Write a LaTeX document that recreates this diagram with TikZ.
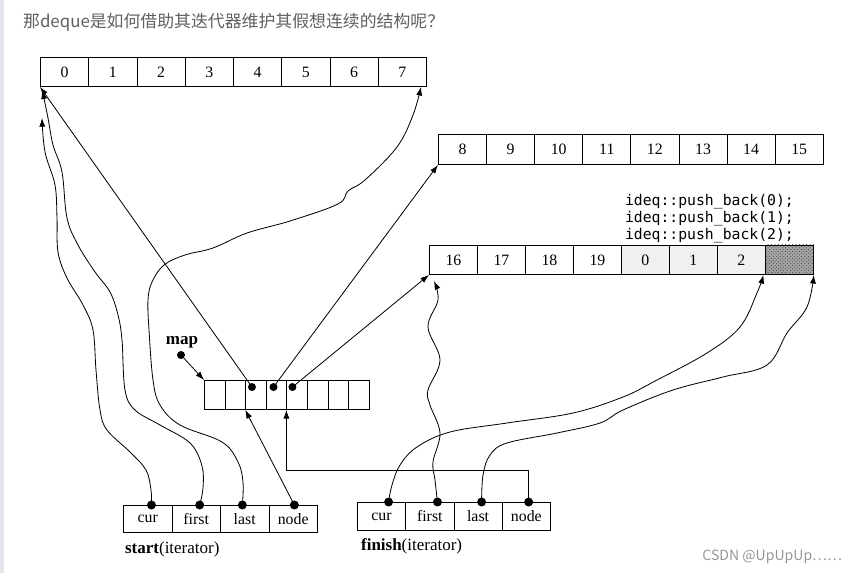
\documentclass[tikz,border=0pt]{standalone}
\usepackage{fontspec}
\setmainfont{Liberation Serif}
\setmonofont{DejaVu Sans Mono}
\newfontfamily\cjk{Noto Sans CJK SC}
\usetikzlibrary{arrows.meta,backgrounds,patterns}
\definecolor{titlec}{RGB}{96,96,96}
\definecolor{markc}{RGB}{150,150,150}
\definecolor{barc}{RGB}{228,230,235}
\tikzset{
  cell/.style={draw=black, line width=0.75pt, inner sep=0pt, font=\fontsize{13.5}{15}\selectfont},
  dot/.style={circle, fill=black, inner sep=0pt, minimum size=2.7mm},
  ptr/.style={-{Latex[length=2.6mm,width=1.8mm]}, line width=0.7pt},
  wavy/.style={ptr, smooth, tension=0.6},
  lbl/.style={anchor=west, font=\fontsize{14.5}{16}\selectfont}
}

\begin{document}
\begin{tikzpicture}[x=0.03cm, y=-0.03cm]
  \useasboundingbox (0,0) rectangle (850,573);
  \fill[barc] (0,0) rectangle (4,573);
  \node[anchor=west, text=titlec, font=\cjk\fontsize{14.4}{16}\selectfont] (title) at (19,22) {那deque是如何借助其迭代器维护其假想连续的结构呢？};

  \newcommand{\cellrow}[6]{
    \foreach \lbl [count=\k from 0] in {#6}
      \node[cell, minimum width=#4*0.03cm, minimum height=#5*0.03cm, anchor=north west] (#1\k) at ({#2+\k*#4},#3) {\lbl};
  }
  \cellrow{a}{40}{57}{48.25}{29}{0,1,2,3,4,5,6,7}
  \cellrow{b}{438}{134}{48.1}{30}{8,9,10,11,12,13,14,15}
  \cellrow{c}{429}{245}{48}{29}{16,17,18,19,0,1,2,{}}
  \cellrow{m}{204}{380}{20.6}{29}{{},{},{},{},{},{},{},{}}
  \cellrow{s}{123}{505}{48.5}{27}{cur,first,last,node}
  \cellrow{f}{357}{502}{48.25}{28}{cur,first,last,node}

  \begin{scope}[on background layer]
    \fill[black!6] (c4.south west) rectangle (c6.north east);
    \fill[black!35] (c7.south west) rectangle (c7.north east);
    \fill[pattern=crosshatch dots, pattern color=black!75] (c7.south west) rectangle (c7.north east);
  \end{scope}

  \node[anchor=north east, align=left, font=\ttfamily\fontsize{12.6}{14.5}\selectfont] (pushlbl) at (798,190) {ideq::push\_back(0);\\ideq::push\_back(1);\\ideq::push\_back(2);};

  % map pointer and node pointers
  \node[font=\bfseries\fontsize{14.5}{16}\selectfont] (maplbl) at (182,342) {map};
  \node[dot, minimum size=2.4mm] (mapdot) at (181,355) {};
  \draw[ptr] (mapdot) -- (m0.north west);
  \node[dot, minimum size=2.4mm] (md2) at ([shift={(-3.4pt,-6pt)}]m2.north) {};
  \node[dot, minimum size=2.4mm] (md3) at ([shift={(-2.6pt,-6pt)}]m3.north) {};
  \node[dot, minimum size=2.4mm] (md4) at ([shift={(-4pt,-6pt)}]m4.north) {};
  \draw[ptr] (md2.center) -- (a0.south west);
  \draw[ptr] (md3.center) -- (b0.south west);
  \draw[ptr] (md4.center) -- (c0.south west);

  % start iterator
  \node[dot] (sd0) at ([xshift=3.2pt]s0.north) {};
  \node[dot] (sd1) at ([xshift=3pt]s1.north) {};
  \node[dot] (sd2) at ([xshift=-2pt]s2.north) {};
  \node[dot] (sd3) at ([xshift=1pt]s3.north) {};
  \coordinate (curtip) at (42,118);
  \draw[wavy] plot coordinates {(sd0.center) (151,490) (146,470) (130,452) (107,430) (100,410) (96,370) (93,330) (83,305) (67,278) (58,252) (57,218) (55,185) (45,152) (curtip)};
  \draw[wavy] plot coordinates {(sd1.center) (203,488) (202,466) (190,443) (160,425) (135,410) (125,390) (122,340) (118,315) (110,292) (95,272) (78,245) (67,218) (62,172) (53,145) (48,118) ([shift={(2pt,-3pt)}]a0.south west)};
  \draw[wavy] plot coordinates {(sd2.center) (243,482) (238,462) (222,442) (180,425) (160,405) (153,380) (149,330) (148,300) (152,282) (164,265) (185,255) (213,248) (247,233) (290,221) (338,204) (348,191) (365,180) (397,147) (413,115) ([xshift=-5pt]a7.south east)};
  \draw[ptr] (sd3.center) -- (m2.south west);

  % finish iterator
  \node[dot] (fd0) at ([xshift=6pt]f0.north) {};
  \node[dot] (fd1) at ([xshift=6.5pt]f1.north) {};
  \node[dot] (fd2) at ([xshift=3pt]f2.north) {};
  \node[dot] (fd3) at ([xshift=2pt]f3.north) {};
  \coordinate (firsttip) at (434,281);
  \draw[wavy] plot coordinates {(fd0.center) (392,485) (400,465) (417,447) (450,432) (507,423) (573,413) (623,397) (657,380) (707,353) (740,327) (757,293) ([xshift=-2pt]c6.south east)};
  \draw[wavy] plot coordinates {(fd1.center) (435,480) (433,462) (440,433) (430,405) (428,390) (440,360) (428,327) (438,300) (firsttip)};
  \draw[wavy] plot coordinates {(fd2.center) (483,475) (490,455) (507,443) (557,433) (600,423) (623,410) (673,390) (723,377) (767,365) (787,333) (807,307) (c7.south east)};
  \draw[ptr] (fd3.center) -- ++(0,-32) -| (m4.south west);

  \node[lbl] (startlbl) at (121,549) {\textbf{start}(iterator)};
  \node[lbl] (finishlbl) at (357,546) {\textbf{finish}(iterator)};
  \node[anchor=east, text=markc, font=\cjk\fontsize{12}{14}\selectfont] (mark) at (846,557) {CSDN @UpUpUp……};
\end{tikzpicture}
\end{document}
